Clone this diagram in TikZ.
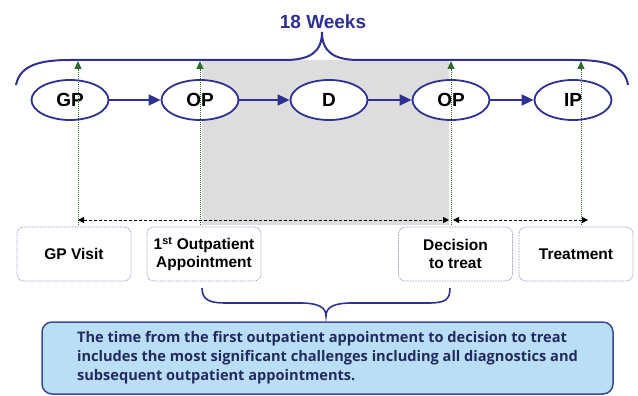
\documentclass[tikz,border=0pt]{standalone}
\usepackage{fontspec}
\setmainfont{Liberation Sans}
\newfontfamily\notefont{Open Sans}
\usetikzlibrary{shapes, arrows.meta, positioning}
\definecolor{pathblue}{HTML}{2E3192}
\definecolor{markgreen}{HTML}{2F6B2F}
\definecolor{boxline}{HTML}{9090C8}
\definecolor{waitgray}{HTML}{DDDDDD}
\definecolor{notefill}{HTML}{B9DEF6}
\definecolor{noteline}{HTML}{3A4A9A}
\definecolor{notetext}{HTML}{232B5E}
\tikzstyle{stage} = [draw=pathblue, line width=1.8pt, ellipse, fill=white, minimum width=77pt, minimum height=40pt, inner sep=0pt, font=\fontsize{19}{19}\selectfont\bfseries]
\tikzstyle{flow} = [draw=pathblue, line width=1.8pt, -{Triangle[length=12pt,width=11pt]}]
\tikzstyle{label} = [draw=boxline, line width=0.7pt, dash pattern=on 0.8pt off 0.8pt, fill=white, rounded corners=7pt, minimum width=114pt, minimum height=54pt, align=center, font=\fontsize{15.5}{18}\selectfont\bfseries]
\tikzstyle{milestone} = [draw=markgreen, line width=1pt, dash pattern=on 1pt off 1pt, -{Triangle[length=8pt,width=7pt]}]
\tikzstyle{span} = [draw=black, line width=0.8pt, dash pattern=on 3pt off 2pt, {Triangle[length=6pt,width=6pt]}-{Triangle[length=6pt,width=6pt]}]
\tikzstyle{brace} = [draw=pathblue, line width=2pt]
\tikzstyle{note} = [draw=noteline, line width=1.5pt, fill=notefill, rounded corners=10pt, minimum width=571pt, minimum height=72pt, align=left, text=notetext, font=\notefont\fontsize{14.6}{19}\selectfont\bfseries]

\begin{document}
\begin{tikzpicture}[x=1pt, y=-1pt]
	\useasboundingbox (0,0) rectangle (638,396);
	% waiting time from first outpatient to decision
	\fill[waitgray] (202,60) rectangle (449,225);
	\node[font=\fontsize{19}{19}\selectfont\bfseries, text=pathblue] (weeks) at (323,22) {18 Weeks};
	\draw[brace] (16,85) .. controls (20,65) and (40,60) .. (70,60) -- (285,60)
		.. controls (310,60) and (322,52) .. (322,32)
		.. controls (322,52) and (334,60) .. (359,60) -- (575,60)
		.. controls (605,60) and (625,65) .. (628,85);
	% pathway
	\node[stage] (gp) at (70,100) {GP};
	\node[stage] (opa) at (200,100) {OP};
	\node[stage] (d) at (329,100) {D};
	\node[stage] (opb) at (451,100) {OP};
	\node[stage] (ip) at (573,100) {IP};
	\draw[flow] (gp) -- (opa);
	\draw[flow] (opa) -- (d);
	\draw[flow] (d) -- (opb);
	\draw[flow] (opb) -- (ip);
	% milestones
	\coordinate (gpbot) at (78,225);   \coordinate (gptop) at (78,61);
	\coordinate (opabot) at (200,225); \coordinate (opatop) at (200,61);
	\coordinate (opbbot) at (451,225); \coordinate (opbtop) at (451,61);
	\coordinate (ipbot) at (581,225);  \coordinate (iptop) at (581,61);
	\draw[milestone] (gpbot) -- (gptop);
	\draw[milestone] (opabot) -- (opatop);
	\draw[milestone] (opbbot) -- (opbtop);
	\draw[milestone] (ipbot) -- (iptop);
	\coordinate (wait) at (78,220);  \coordinate (dtt) at (449,220);
	\coordinate (dtta) at (453,220); \coordinate (treat) at (588,220);
	\draw[span] (wait) -- (dtt);
	\draw[span] (dtta) -- (treat);
	% labels
	\node[label] (gpvisit) at (74,254) {GP Visit};
	\node[label] (firstop) at (204,254) {1\textsuperscript{st} Outpatient\\Appointment};
	\node[label] (decision) at (455.5,254) {Decision\\to treat};
	\node[label] (treatment) at (576,254) {Treatment};
	\draw[brace, line width=1.6pt] (202,288) .. controls (202,300) and (210,303) .. (225,303) -- (300,303)
		.. controls (318,303) and (326,307) .. (326,316)
		.. controls (326,307) and (334,303) .. (352,303) -- (428,303)
		.. controls (445,303) and (450,300) .. (450,288);
	\node[note] (challenge) at (327.5,358) {The time from the first outpatient appointment to decision to treat\\includes the most significant challenges including all diagnostics and\\subsequent outpatient appointments.};
\end{tikzpicture}
\end{document}
